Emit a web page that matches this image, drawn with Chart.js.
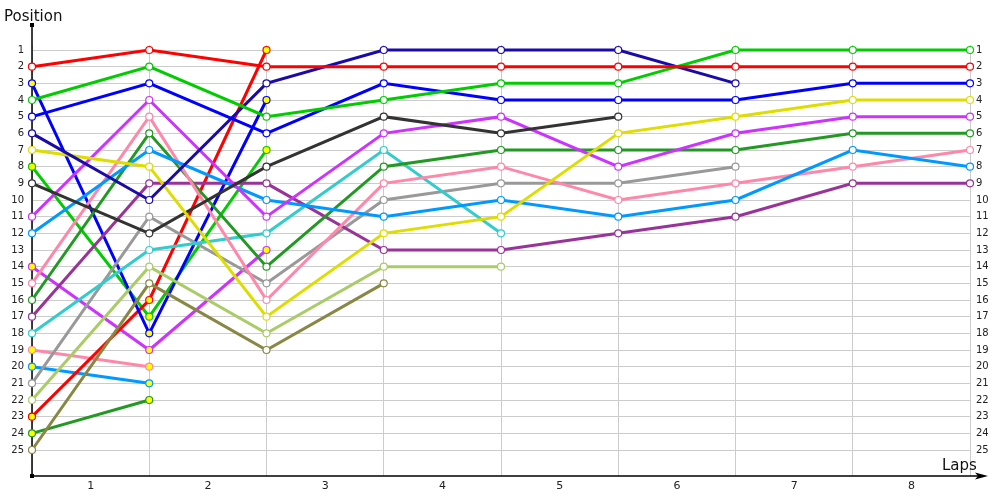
<!DOCTYPE html>
<html>
<head>
<meta charset="utf-8">
<script src="https://cdn.jsdelivr.net/npm/chart.js@4.4.1/dist/chart.umd.min.js"></script>
<style>
  body { margin: 0; background: #fff; }
  #wrap { width: 1000px; height: 500px; }
</style>
</head>
<body>
<div id="wrap"><canvas id="lapChart" width="1000" height="500"></canvas></div>
<script>
const laps = [0, 1, 2, 3, 4, 5, 6, 7, 8];
const lapLabels = ["1", "2", "3", "4", "5", "6", "7", "8"];
const positions = [1, 2, 3, 4, 5, 6, 7, 8, 9, 10, 11, 12, 13, 14, 15, 16, 17, 18, 19, 20, 21, 22, 23, 24, 25];

// position per lap, index = lap number (lap 0 = grid)
const redLead = [2, 1, 2, 2, 2, 2, 2, 2, 2];
const greenLead = [4, 2, 5, 4, 3, 3, 1, 1, 1];
const blueLead = [5, 3, 6, 3, 4, 4, 4, 3, 3];
const navy = [6, 10, 3, 1, 1, 1, 3];
const yellow = [7, 8, 17, 12, 11, 6, 5, 4, 4];
const darkGray = [9, 12, 8, 5, 6, 5];
const violet = [11, 4, 11, 6, 5, 8, 6, 5, 5];
const skyBlue = [12, 7, 10, 11, 10, 11, 10, 7, 8];
const pink = [15, 5, 16, 9, 8, 10, 9, 8, 7];
const darkGreen = [16, 6, 14, 8, 7, 7, 7, 6, 6];
const plum = [17, 9, 9, 13, 13, 12, 11, 9, 9];
const cyan = [18, 13, 12, 7, 12];
const gray = [21, 11, 15, 10, 9, 9, 8];
const lime = [22, 14, 18, 14, 14];
const olive = [25, 15, 19, 15];

// cars that dropped out early (yellow markers)
const blueOut = [3, 18, 4];
const redOut = [23, 16, 1];
const greenOut = [8, 17, 7];
const violetOut = [14, 19, 13];
const pinkOut = [19, 20];
const skyBlueOut = [20, 21];
const darkGreenOut = [24, 22];

const series = [
  { data: redLead, color: "#ff0000" },
  { data: greenLead, color: "#00cc00" },
  { data: blueLead, color: "#0000ff" },
  { data: navy, color: "#1a0aaa" },
  { data: yellow, color: "#dddd00" },
  { data: darkGray, color: "#333333" },
  { data: violet, color: "#cc33ff" },
  { data: skyBlue, color: "#0099ff" },
  { data: pink, color: "#ff88aa" },
  { data: darkGreen, color: "#229922" },
  { data: plum, color: "#993399" },
  { data: cyan, color: "#33cccc" },
  { data: gray, color: "#999999" },
  { data: lime, color: "#aacc66" },
  { data: olive, color: "#888844" },
  { data: blueOut, color: "#0000ff", out: true },
  { data: redOut, color: "#ff0000", out: true },
  { data: greenOut, color: "#00cc00", out: true },
  { data: violetOut, color: "#cc33ff", out: true },
  { data: pinkOut, color: "#ff88aa", out: true },
  { data: skyBlueOut, color: "#0099ff", out: true },
  { data: darkGreenOut, color: "#229922", out: true },
];

const datasets = series.map((s) => ({
  data: s.data.map((p, i) => ({ x: laps[i], y: p })),
  borderColor: s.color,
  backgroundColor: s.color,
  borderWidth: 3,
  pointRadius: 3.5,
  pointBorderWidth: 1.2,
  pointBorderColor: s.color,
  pointBackgroundColor: s.out ? "#ffff00" : "#ffffff",
  tension: 0,
  clip: false,
}));

const xTicks = [];
laps.forEach((l, i) => {
  xTicks.push({ value: l });
  if (i < lapLabels.length) xTicks.push({ value: l + 0.5 });
});

const decorations = {
  id: "decorations",
  beforeDatasetsDraw(chart) {
    const { ctx, chartArea } = chart;
    const left = chartArea.left;
    const bottom = chartArea.bottom;
    ctx.save();
    ctx.strokeStyle = "#000";
    ctx.fillStyle = "#000";
    ctx.lineWidth = 1.5;
    ctx.beginPath();
    ctx.moveTo(left, 25);
    ctx.lineTo(left, bottom);
    ctx.lineTo(978, bottom);
    ctx.stroke();
    // arrow on x axis
    ctx.beginPath();
    ctx.moveTo(988, bottom);
    ctx.lineTo(975, bottom - 3.5);
    ctx.lineTo(978, bottom);
    ctx.lineTo(975, bottom + 3.5);
    ctx.closePath();
    ctx.fill();
    // dots on axis ends
    ctx.fillRect(left - 2, 23, 4, 4);
    ctx.fillRect(left - 2, bottom - 2, 4, 4);
    ctx.font = "15px 'DejaVu Sans'";
    ctx.fillStyle = "#111";
    ctx.textBaseline = "alphabetic";
    ctx.textAlign = "left";
    ctx.fillText("Position", 4, 21);
    ctx.fillText("Laps", 942, 470);
    ctx.restore();
  },
};

new Chart(document.getElementById("lapChart"), {
  type: "line",
  data: { datasets },
  options: {
    responsive: false,
    animation: false,
    layout: { padding: { top: 45, left: 0, right: 0, bottom: 0 } },
    plugins: { legend: { display: false }, tooltip: { enabled: false } },
    scales: {
      x: {
        type: "linear",
        min: 0,
        max: 8,
        afterBuildTicks: (scale) => {
          scale.ticks = xTicks.map((t) => ({ value: t.value }));
        },
        afterFit: (scale) => {
          scale.height = 24;
        },
        ticks: {
          autoSkip: false,
          maxRotation: 0,
          padding: 4,
          color: "#222",
          font: { family: "DejaVu Sans", size: 11 },
          callback: (v) => (Number.isInteger(v) ? "" : lapLabels[Math.floor(v)]),
        },
        grid: {
          color: (c) => (c.tick && Number.isInteger(c.tick.value) ? "#cccccc" : "rgba(0,0,0,0)"),
          lineWidth: 1,
          drawTicks: false,
        },
        border: { display: false },
      },
      y: {
        type: "linear",
        reverse: true,
        min: 0.7,
        max: 26.56,
        afterBuildTicks: (scale) => {
          scale.ticks = positions.map((p) => ({ value: p }));
        },
        afterFit: (scale) => {
          scale.width = 32;
        },
        ticks: {
          autoSkip: false,
          padding: 8,
          color: "#222",
          font: { family: "DejaVu Sans", size: 10 },
        },
        grid: { color: "#cccccc", lineWidth: 1, drawTicks: false },
        border: { display: false },
      },
      yRight: {
        type: "linear",
        position: "right",
        reverse: true,
        min: 0.7,
        max: 26.56,
        afterBuildTicks: (scale) => {
          scale.ticks = positions.map((p) => ({ value: p }));
        },
        afterFit: (scale) => {
          scale.width = 30;
        },
        ticks: {
          autoSkip: false,
          padding: 6,
          color: "#222",
          font: { family: "DejaVu Sans", size: 10 },
        },
        grid: { display: false, drawTicks: false },
        border: { display: false },
      },
    },
  },
  plugins: [decorations],
});
</script>
</body>
</html>
